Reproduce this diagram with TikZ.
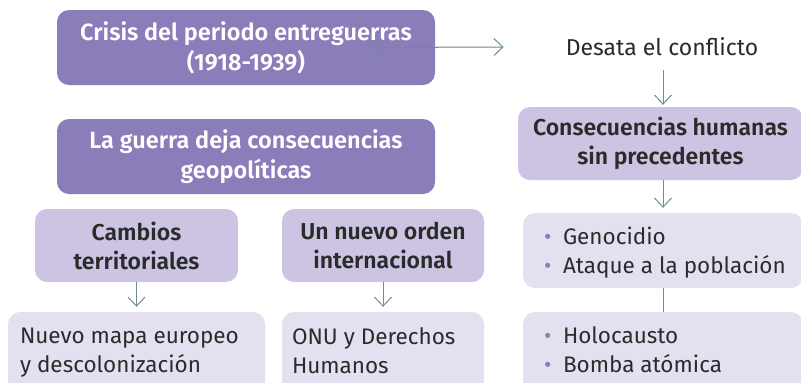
\documentclass[tikz,border=0pt]{standalone}
\usepackage{fontspec}
\setmainfont{Fira Sans}[BoldFont={Fira Sans SemiBold}]
\usetikzlibrary{arrows.meta}
\definecolor{dp}{HTML}{8B7DBA}
\definecolor{mp}{HTML}{CCC4E2}
\definecolor{lp}{HTML}{E4E0F0}
\definecolor{txt}{HTML}{2B2B2B}
\definecolor{arr}{HTML}{6E8C92}
\newcommand{\bul}{\makebox[19pt][l]{\textcolor{dp}{•}}}
\begin{document}
\begin{tikzpicture}[x=1pt,y=-1pt,
  every node/.style={inner sep=0pt},
  dbox/.style={fill=dp, rounded corners=12pt, align=center, text=white,
    font=\fontsize{23.5}{30}\selectfont\bfseries},
  mbox/.style={fill=mp, rounded corners=12pt, align=center, text=txt,
    font=\fontsize{23}{29}\selectfont\bfseries},
  lbox/.style={fill=lp, rounded corners=12pt},
  ltext/.style={anchor=north west, align=left, text=txt,
    font=\fontsize{22.5}{28.5}\selectfont},
  conn/.style={draw=arr, line width=1pt},
  arrow/.style={conn, -{Straight Barb[length=9pt,width=17pt,line width=1pt]}},
  biarrow/.style={conn, {Straight Barb[length=9pt,width=17pt,line width=1pt]}-{Straight Barb[length=9pt,width=17pt,line width=1pt]}}
]
\useasboundingbox (0,0) rectangle (801,383);
\clip (0,0) rectangle (801,383);
\fill[white] (0,0) rectangle (801,383);

% left column
\node[dbox, minimum width=378pt, minimum height=75pt] (crisis) at (246,47.5)
  {Crisis del periodo entreguerras\\(1918-1939)};
\node[dbox, minimum width=378pt, minimum height=75pt] (guerra) at (246,156.5)
  {La guerra deja consecuencias\\geopolíticas};
\node[mbox, minimum width=203pt, minimum height=73pt] (cambios) at (136.5,245.5)
  {Cambios\\territoriales};
\node[mbox, minimum width=202pt, minimum height=73pt] (nuevo) at (383,245.5)
  {Un nuevo orden\\internacional};
\node[lbox, minimum width=257pt, minimum height=88pt] (mapa) at (136.5,356) {};
\node[lbox, minimum width=202pt, minimum height=88pt] (onu) at (383,356) {};
\node[ltext] (mapatxt) at ([xshift=12pt,yshift=-16pt]mapa.north west)
  {Nuevo mapa europeo\\y descolonización};
\node[ltext] (onutxt) at ([xshift=10pt,yshift=-16pt]onu.north west)
  {ONU y Derechos\\Humanos};

% right column
\node[text=txt, font=\fontsize{23}{29}\selectfont] (desata) at (662,47) {Desata el conflicto};
\node[mbox, minimum width=285pt, minimum height=73pt] (conse) at (660.5,143.5)
  {Consecuencias humanas\\sin precedentes};
\node[lbox, minimum width=280pt, minimum height=75pt] (geno) at (663,250.5) {};
\node[lbox, minimum width=280pt, minimum height=88pt] (holo) at (663,356) {};
\node[ltext] (genotxt) at ([xshift=21pt,yshift=-14pt]geno.north west)
  {\bul Genocidio\\\bul Ataque a la población};
\node[ltext] (holotxt) at ([xshift=21pt,yshift=-15pt]holo.north west)
  {\bul Holocausto\\\bul Bomba atómica};

% connectors
\draw[biarrow] ([xshift=-63pt]crisis.east) -- ([xshift=-62pt]desata.west);
\draw[arrow] ([yshift=-14pt]desata.south -| geno.north) -- ([yshift=2pt]conse.north -| geno.north);
\draw[arrow] (conse.south -| geno.north) -- ([yshift=5pt]geno.north);
\draw[conn] (geno.south) -- (holo.north);
\draw[arrow] (cambios.south) -- ([yshift=5pt]mapa.north);
\draw[arrow] (nuevo.south) -- ([yshift=5pt]onu.north);
\end{tikzpicture}
\end{document}
